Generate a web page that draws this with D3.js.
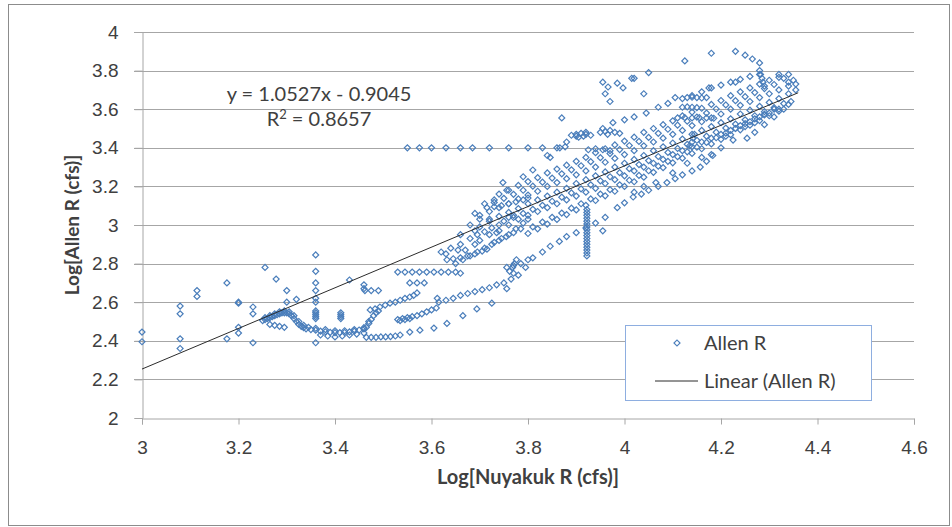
<!DOCTYPE html>
<html>
<head>
<meta charset="utf-8">
<script src="https://cdn.jsdelivr.net/npm/d3@7"></script>
<style>
  body { margin: 0; background: #fff; }
  svg { font-family: Lato, "Open Sans", sans-serif; }
</style>
</head>
<body>
<div id="chart"></div>
<script>
// tick values
const xTicks = [3, 3.2, 3.4, 3.6, 3.8, 4, 4.2, 4.4, 4.6]
const yTicks = [2, 2.2, 2.4, 2.6, 2.8, 3, 3.2, 3.4, 3.6, 3.8, 4]

// trendline from Excel
const slope = 1.0527
const intercept = -0.9045
const trendRange = [3, 4.36]

// scattered low-flow points
const lowFlow = [
  [3.0,2.445],[3.0,2.395],[3.079,2.58],[3.079,2.54],[3.079,2.41],[3.079,2.36],
  [3.114,2.66],[3.114,2.63],[3.176,2.70],[3.176,2.41],[3.20,2.60],[3.20,2.595],
  [3.20,2.47],[3.20,2.44],[3.23,2.575],[3.23,2.54],[3.23,2.39],[3.255,2.78],
  [3.278,2.72],[3.30,2.66],[3.30,2.60],[3.32,2.615],[3.36,2.845],[3.36,2.76],
  [3.36,2.70],[3.36,2.66],[3.36,2.62],[3.36,2.60],[3.36,2.39],[3.43,2.715],
  [3.46,2.67],[3.46,2.69],[3.462,2.66],[3.475,2.66],[3.49,2.66],
  [3.36,2.555],[3.36,2.545],[3.36,2.535],[3.36,2.525],[3.36,2.515],
  [3.412,2.545],[3.412,2.535],[3.412,2.525],[3.412,2.515]
]

// the dense recession curve around 3.25 - 3.5
const recession = [
  [3.25,2.505],[3.255,2.51],[3.26,2.515],[3.265,2.52],[3.27,2.525],[3.275,2.53],
  [3.28,2.535],[3.285,2.54],[3.29,2.545],[3.295,2.545],[3.30,2.545],[3.305,2.54],
  [3.31,2.53],[3.315,2.515],[3.32,2.50],[3.325,2.485],[3.33,2.475],[3.335,2.468],
  [3.34,2.462],[3.35,2.458],[3.36,2.455],[3.37,2.45],[3.38,2.447],[3.39,2.444],
  [3.40,2.442],[3.41,2.442],[3.42,2.443],[3.43,2.446],[3.44,2.45],[3.45,2.456],
  [3.46,2.462],[3.465,2.47],[3.47,2.49],[3.475,2.51],[3.48,2.53],[3.485,2.545],
  [3.49,2.555],
  [3.255,2.52],[3.265,2.53],[3.275,2.54],[3.285,2.55],[3.295,2.555],[3.305,2.55],
  [3.315,2.53],[3.325,2.50],[3.335,2.48],[3.345,2.47],[3.36,2.465],[3.38,2.458],
  [3.40,2.452],[3.42,2.452],[3.44,2.458],[3.46,2.468],[3.47,2.50],
  [3.265,2.485],[3.275,2.48],[3.285,2.475],[3.295,2.47],
  [3.37,2.43],[3.385,2.425],[3.40,2.42],[3.415,2.425],[3.43,2.43],[3.445,2.435],[3.46,2.44],
  [3.465,2.418],[3.475,2.418],[3.485,2.418],[3.495,2.42],[3.505,2.42],[3.515,2.422],
  [3.525,2.425],[3.535,2.43],[3.555,2.445],[3.576,2.455],[3.605,2.466],[3.632,2.49],
  [3.665,2.53],[3.694,2.565],[3.725,2.595],[3.756,2.67]
]

// rising limbs between 3.45 and 3.8
const rising = [
  [3.473,2.56],[3.483,2.565],[3.493,2.575],[3.504,2.585],[3.514,2.595],[3.525,2.60],
  [3.535,2.61],[3.545,2.62],[3.555,2.627],[3.563,2.635],[3.57,2.648],
  [3.53,2.51],[3.54,2.515],[3.55,2.52],[3.56,2.525],[3.57,2.53],[3.58,2.54],
  [3.59,2.55],[3.60,2.56],[3.61,2.57],[3.535,2.505],[3.545,2.51],[3.555,2.515],
  [3.612,2.62],[3.615,2.60],[3.63,2.61],[3.645,2.62],[3.66,2.635],[3.675,2.645],
  [3.69,2.655],[3.705,2.665],[3.72,2.675],[3.735,2.69],[3.75,2.70],[3.765,2.72],[3.78,2.74],
  [3.53,2.756],[3.545,2.756],[3.56,2.756],[3.575,2.756],[3.59,2.756],[3.605,2.756],
  [3.62,2.756],[3.635,2.756],[3.65,2.756],[3.66,2.75],
  [3.555,2.70],[3.57,2.70],[3.585,2.70],
  [3.632,2.82],[3.645,2.825],[3.66,2.83],[3.675,2.84],[3.69,2.85],[3.705,2.865],[3.715,2.875],
  [3.73,2.91],[3.745,2.93],[3.76,2.95],[3.775,2.98],[3.79,3.01],[3.80,3.03],
  [3.756,2.78],[3.77,2.79],[3.785,2.80],[3.80,2.82],[3.77,2.75],
  [3.65,2.80],[3.665,2.82],[3.68,2.84],[3.695,2.86],[3.71,2.88],[3.725,2.90],
  [3.74,2.92],[3.755,2.94],[3.77,2.96],[3.785,2.98],
  [3.68,2.93],[3.695,2.95],[3.71,2.965],[3.725,2.985],[3.74,3.00],
  [3.715,3.09],[3.73,3.095],[3.745,3.10],[3.76,3.11],[3.775,3.12],[3.79,3.13],[3.80,3.14],
  [3.66,2.95],[3.68,3.00],[3.70,3.03],[3.69,2.97],[3.748,3.22],[3.756,3.18],
  [3.79,3.25],[3.81,3.285],[3.762,2.76],[3.768,2.78],[3.772,2.80],[3.776,2.82],
  [3.62,2.86],[3.64,2.88],[3.66,2.90],[3.70,2.92],[3.72,2.95],[3.74,2.97],[3.70,2.99],
  [3.72,3.03],[3.67,2.87],[3.69,2.90],[3.75,3.02],[3.77,3.05],[3.63,2.85],[3.655,2.87],
  [3.735,2.96],[3.76,3.04],[3.69,3.06],[3.71,3.11],[3.73,3.13]
]

// flat run at 3.4 and the vertical run near 3.92
const flatRun = [
  [3.55,3.40],[3.575,3.40],[3.60,3.40],[3.63,3.40],[3.66,3.40],[3.685,3.40],
  [3.72,3.40],[3.76,3.40],[3.80,3.40],[3.83,3.40]
]
const verticalRun = [
  [3.922,3.08],[3.922,3.065],[3.922,3.05],[3.922,3.035],[3.922,3.02],[3.922,3.005],
  [3.922,2.99],[3.922,2.975],[3.922,2.96],[3.922,2.945],[3.922,2.93],[3.922,2.915],
  [3.922,2.90],[3.922,2.885],[3.922,2.87],[3.922,2.855],[3.922,2.84]
]

// main cloud (high flows)
const mainCloud = [
  // lower edge
  [3.795,2.78],[3.81,2.83],[3.83,2.86],[3.846,2.89],[3.865,2.915],[3.88,2.94],
  [3.90,2.96],[3.92,2.985],[3.94,3.01],[3.96,3.04],[3.955,2.97],[3.985,3.09],[4.00,3.115],
  [4.018,3.145],[4.035,3.16],[4.05,3.18],[4.07,3.20],[4.088,3.22],[4.105,3.24],
  [4.12,3.26],[4.14,3.28],[4.157,3.30],[4.17,3.33],[4.183,3.36],[4.20,3.40],
  [4.225,3.44],[4.254,3.45],[4.27,3.48],[4.29,3.52],[4.31,3.56],[4.33,3.60],[4.345,3.64],
  [4.02,3.17],[4.04,3.20],[4.065,3.22],[4.10,3.27],[4.13,3.32],[4.16,3.35],[4.18,3.365],
  [4.21,3.46],[4.23,3.50],[4.25,3.51],[4.27,3.53],[4.29,3.57],[4.31,3.60],
  // band below the line
  [3.80,2.956],[3.82,2.98],[3.84,3.005],[3.86,3.029],[3.88,3.054],[3.90,3.078],
  [3.92,3.102],[3.94,3.127],[3.96,3.151],[3.98,3.175],[4.00,3.20],[4.02,3.224],
  [4.04,3.248],[4.06,3.273],[4.08,3.297],[4.10,3.322],[4.12,3.346],[4.14,3.371],
  [4.16,3.395],[4.18,3.42],[4.20,3.444],[4.22,3.468],[4.24,3.493],[4.26,3.517],
  [4.28,3.541],[4.30,3.566],[4.32,3.59],
  [3.81,2.99],[3.83,3.015],[3.85,3.04],[3.87,3.062],[3.89,3.087],[3.91,3.11],
  [3.93,3.135],[3.95,3.16],[3.97,3.183],[3.99,3.208],[4.01,3.232],[4.03,3.257],
  [4.05,3.281],[4.07,3.305],[4.09,3.33],[4.11,3.354],[4.13,3.379],[4.15,3.403],
  [4.17,3.428],[4.19,3.452],[4.21,3.476],[4.23,3.50],[4.25,3.525],[4.27,3.55],[4.29,3.574],
  [3.76,3.00],[3.78,3.03],[3.80,3.05],[3.82,3.07],[3.84,3.09],[3.86,3.11],[3.88,3.13],
  [3.90,3.15],[3.92,3.17],[3.94,3.19],[3.96,3.215],[3.98,3.235],[4.00,3.255],[4.02,3.28],
  [4.04,3.30],[4.06,3.32],[4.08,3.34],[4.10,3.365],[4.12,3.385],[4.14,3.405],[4.16,3.43],
  [4.18,3.45],[4.20,3.47],[4.22,3.49],[4.24,3.515],[4.26,3.535],[4.28,3.56],[4.30,3.58],
  [4.32,3.60],[4.34,3.625],
  [3.77,3.039],[3.79,3.060],[3.81,3.081],[3.83,3.102],[3.85,3.123],[3.87,3.144],
  [3.89,3.166],[3.91,3.187],[3.93,3.208],[3.95,3.229],[3.97,3.250],[3.99,3.271],
  [4.01,3.292],[4.03,3.313],[4.05,3.334],[4.07,3.355],[4.09,3.376],[4.11,3.397],
  [4.13,3.418],[4.15,3.439],[4.17,3.460],[4.19,3.481],[4.21,3.502],[4.23,3.523],
  [4.25,3.545],[4.27,3.566],[4.29,3.587],[4.31,3.608],[4.33,3.629],
  // along the line
  [3.72,3.02],[3.74,3.045],[3.76,3.065],[3.78,3.085],[3.80,3.11],[3.82,3.13],[3.84,3.15],
  [3.86,3.17],[3.88,3.19],[3.90,3.215],[3.92,3.235],[3.94,3.255],[3.96,3.275],[3.98,3.30],
  [4.00,3.32],[4.02,3.34],[4.04,3.36],[4.06,3.385],[4.08,3.405],[4.10,3.425],[4.12,3.445],
  [4.14,3.47],[4.16,3.49],[4.18,3.51],[4.20,3.53],[4.22,3.55],[4.24,3.575],[4.26,3.595],
  [4.28,3.615],[4.30,3.635],[4.32,3.655],[4.34,3.68],[4.355,3.70],
  // above the line
  [3.70,3.05],[3.72,3.07],[3.74,3.09],[3.76,3.11],[3.78,3.135],[3.80,3.155],[3.82,3.175],
  [3.84,3.20],[3.86,3.22],[3.88,3.24],[3.90,3.26],[3.92,3.28],[3.94,3.30],[3.96,3.325],
  [3.98,3.345],[4.00,3.365],[4.02,3.385],[4.04,3.41],[4.06,3.43],[4.08,3.45],[4.10,3.47],
  [4.12,3.49],[4.14,3.515],[4.16,3.535],[4.18,3.555],[4.20,3.575],[4.22,3.60],[4.24,3.62],
  [4.26,3.64],[4.28,3.66],[4.30,3.68],[4.32,3.70],[4.34,3.72],
  [3.73,3.117],[3.75,3.138],[3.77,3.159],[3.79,3.180],[3.81,3.201],[3.83,3.222],
  [3.85,3.243],[3.87,3.265],[3.89,3.286],[3.91,3.307],[3.93,3.328],[3.95,3.349],
  [3.97,3.370],[3.99,3.391],[4.01,3.412],[4.03,3.433],[4.05,3.454],[4.07,3.475],
  [4.09,3.496],[4.11,3.517],[4.13,3.538],[4.15,3.559],[4.17,3.580],[4.19,3.601],
  [4.21,3.622],[4.23,3.644],[4.25,3.665],[4.27,3.686],[4.29,3.707],[4.31,3.728],
  [3.74,3.16],[3.76,3.18],[3.78,3.205],[3.80,3.225],[3.82,3.245],[3.84,3.27],[3.86,3.29],
  [3.88,3.31],[3.90,3.33],[3.92,3.35],[3.94,3.375],[3.96,3.395],[3.98,3.415],[4.00,3.435],
  [4.02,3.455],[4.04,3.48],[4.06,3.50],[4.08,3.52],[4.10,3.54],[4.12,3.565],[4.14,3.585],
  [4.16,3.605],[4.18,3.625],[4.20,3.645],[4.22,3.67],[4.24,3.69],[4.26,3.71],[4.28,3.73],
  [4.30,3.75],[4.32,3.765],[4.34,3.78],
  // upper band
  [3.84,3.36],[3.86,3.40],[3.88,3.43],[3.90,3.46],[3.92,3.48],[3.955,3.50],[3.976,3.53],
  [4.00,3.545],[4.02,3.56],[4.045,3.58],[4.07,3.61],[4.09,3.63],[4.12,3.655],[4.14,3.67],
  [4.16,3.69],[4.18,3.71],[4.20,3.725],[4.22,3.74],[4.24,3.755],[4.26,3.77],
  [3.87,3.555],[3.846,3.35],[3.866,3.40],[3.877,3.405],
  // top scatter
  [3.955,3.74],[3.966,3.715],[3.985,3.735],[4.015,3.76],[3.96,3.68],[3.97,3.64],
  [3.997,3.71],[4.02,3.76],[4.05,3.79],[4.125,3.85],[4.18,3.89],[4.23,3.90],[4.25,3.88],
  [4.265,3.86],[4.28,3.84],[4.32,3.78],[4.33,3.76],[4.35,3.75],[4.355,3.73],[4.34,3.74],
  [4.04,3.68],[4.105,3.66],[4.175,3.71],[4.23,3.74],[4.28,3.78],
  // dense clumps
  [3.89,3.465],[3.90,3.47],[3.91,3.475],[3.92,3.47],[3.93,3.465],[3.905,3.455],[3.915,3.46],
  [3.95,3.48],[3.96,3.485],[3.97,3.49],[3.98,3.48],[3.99,3.475],[3.965,3.47],
  [4.13,3.66],[4.14,3.662],[4.15,3.66],[4.16,3.658],[4.17,3.66],
  [4.12,3.61],[4.13,3.612],[4.14,3.61],[4.15,3.608],
  [4.11,3.555],[4.125,3.556],[4.14,3.555],[4.155,3.556],[4.17,3.555],[4.185,3.553],
  [3.925,3.39],[3.94,3.395],[3.955,3.39],[3.97,3.385],
  [4.135,3.41],[4.14,3.43],[4.142,3.45],[4.145,3.47],
  [4.28,3.80],[4.282,3.78],[4.285,3.76],[4.287,3.74],[4.29,3.72]
]

const allPoints = [...lowFlow, ...recession, ...rising, ...flatRun, ...verticalRun, ...mainCloud]

const width = 952
const height = 527

const svg = d3.select('#chart')
  .append('svg')
  .attr('width', width)
  .attr('height', height)

// chart border
svg.append('rect')
  .attr('x', 8.5).attr('y', 4.5)
  .attr('width', 941).attr('height', 521)
  .attr('fill', '#fff')
  .attr('stroke', '#8c8c8c')

const x = d3.scaleLinear().domain([3, 4.6]).range([142, 914])
const y = d3.scaleLinear().domain([2, 4]).range([418, 32])

// gridlines
svg.append('g')
  .selectAll('line')
  .data(yTicks.filter(d => d > 2))
  .join('line')
  .attr('x1', 134).attr('x2', 914)
  .attr('y1', d => Math.round(y(d)) + 0.5)
  .attr('y2', d => Math.round(y(d)) + 0.5)
  .attr('stroke', '#a6a6a6')

// y axis
const yAxis = svg.append('g')
  .attr('transform', 'translate(142.5,0)')
  .call(d3.axisLeft(y).tickValues(yTicks).tickSize(8).tickPadding(16).tickFormat(d => d))
yAxis.select('.domain').attr('stroke', '#a6a6a6')
yAxis.selectAll('.tick line').attr('stroke', '#a6a6a6')
yAxis.selectAll('text').style('font-size', '19px').attr('fill', '#404040')

// x axis
const xAxis = svg.append('g')
  .attr('transform', 'translate(0,418.5)')
  .call(d3.axisBottom(x).tickValues(xTicks).tickSize(6).tickPadding(16).tickFormat(d => d))
xAxis.select('.domain').attr('stroke', '#a6a6a6')
xAxis.selectAll('.tick line').attr('stroke', '#a6a6a6')
xAxis.selectAll('text').style('font-size', '19px').attr('fill', '#404040')

// points
svg.append('g')
  .selectAll('path')
  .data(allPoints)
  .join('path')
  .attr('d', d3.symbol(d3.symbolSquare, 18))
  .attr('transform', d => `translate(${x(d[0])},${y(d[1])}) rotate(45)`)
  .attr('fill', 'none')
  .attr('stroke', '#4a7ebb')
  .attr('stroke-width', 1.2)

// trendline
svg.append('line')
  .attr('x1', x(trendRange[0])).attr('y1', y(slope * trendRange[0] + intercept))
  .attr('x2', x(trendRange[1])).attr('y2', y(slope * trendRange[1] + intercept))
  .attr('stroke', '#2b2b2b')
  .attr('stroke-width', 1)

// equation
svg.append('text')
  .attr('x', 319).attr('y', 101)
  .attr('text-anchor', 'middle')
  .style('font-size', '20px')
  .attr('fill', '#404040')
  .text('y = 1.0527x - 0.9045')
const r2 = svg.append('text')
  .attr('x', 319).attr('y', 126)
  .attr('text-anchor', 'middle')
  .style('font-size', '20px')
  .attr('fill', '#404040')
r2.append('tspan').text('R')
r2.append('tspan').attr('dy', -7).style('font-size', '13px').text('2')
r2.append('tspan').attr('dy', 7).text(' = 0.8657')

// axis titles
svg.append('text')
  .attr('x', 528).attr('y', 484)
  .attr('text-anchor', 'middle')
  .style('font-size', '20px')
  .style('font-weight', 'bold')
  .attr('fill', '#404040')
  .text('Log[Nuyakuk R (cfs)]')

svg.append('text')
  .attr('transform', 'translate(79,225) rotate(-90)')
  .attr('text-anchor', 'middle')
  .style('font-size', '19px')
  .style('font-weight', 'bold')
  .attr('fill', '#404040')
  .text('Log[Allen R (cfs)]')

// legend
const legend = svg.append('g')
legend.append('rect')
  .attr('x', 625.5).attr('y', 325.5)
  .attr('width', 246).attr('height', 75)
  .attr('fill', '#fff')
  .attr('stroke', '#8eaee0')
legend.append('path')
  .attr('d', d3.symbol(d3.symbolSquare, 18))
  .attr('transform', 'translate(677,343) rotate(45)')
  .attr('fill', 'none')
  .attr('stroke', '#4a7ebb')
  .attr('stroke-width', 1.2)
legend.append('text')
  .attr('x', 704).attr('y', 350)
  .style('font-size', '20px')
  .attr('fill', '#404040')
  .text('Allen R')
legend.append('line')
  .attr('x1', 655).attr('x2', 698)
  .attr('y1', 381).attr('y2', 381)
  .attr('stroke', '#2b2b2b')
legend.append('text')
  .attr('x', 704).attr('y', 388)
  .style('font-size', '20px')
  .attr('fill', '#404040')
  .text('Linear (Allen R)')
</script>
</body>
</html>
